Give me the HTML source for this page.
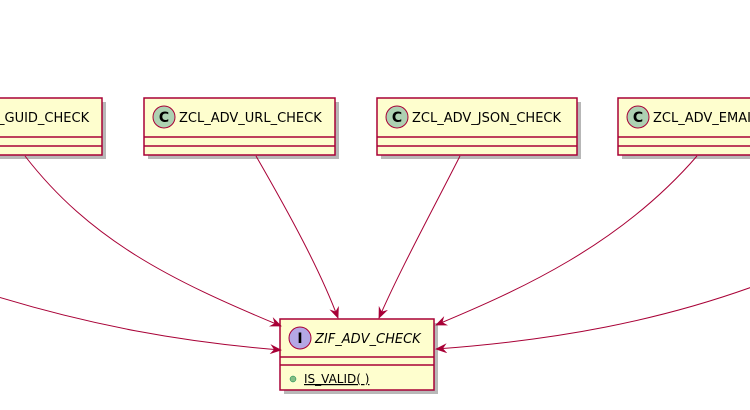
<!DOCTYPE html>
<html><head><meta charset="utf-8"><style>
html,body{margin:0;padding:0;background:#fff;width:750px;height:410px;overflow:hidden}
text{font-family:"DejaVu Sans","Liberation Sans",sans-serif}
</style></head><body>
<svg width="750" height="410" xmlns="http://www.w3.org/2000/svg">
<defs>
<marker id="a" viewBox="0 0 12 10" refX="11" refY="5" markerWidth="12" markerHeight="10" markerUnits="userSpaceOnUse" orient="auto">
<path d="M0,0 L12,5 L0,10 L4,5 Z" fill="#A80036"/></marker>
</defs>
<g fill="#888" opacity="0.6">
<rect x="-6" y="102" width="112" height="57"/>
<rect x="148" y="102" width="191" height="57"/>
<rect x="381" y="102" width="200" height="57"/>
<rect x="622" y="102" width="140" height="57"/>
<rect x="284" y="323" width="154" height="71"/>
</g>
<g fill="#FEFECE" stroke="#A80036" stroke-width="1.5">
<rect x="-10" y="98" width="112" height="57"/>
<line x1="-10" y1="137" x2="102" y2="137"/><line x1="-10" y1="146" x2="102" y2="146"/>
<rect x="144" y="98" width="191" height="57"/>
<line x1="144" y1="137" x2="335" y2="137"/><line x1="144" y1="146" x2="335" y2="146"/>
<rect x="377" y="98" width="200" height="57"/>
<line x1="377" y1="137" x2="577" y2="137"/><line x1="377" y1="146" x2="577" y2="146"/>
<rect x="618" y="98" width="140" height="57"/>
<line x1="618" y1="137" x2="758" y2="137"/><line x1="618" y1="146" x2="758" y2="146"/>
<rect x="280" y="319" width="154" height="71"/>
<line x1="280" y1="357" x2="434" y2="357"/><line x1="280" y1="365" x2="434" y2="365"/>
</g>
<g fill="#ADD1B2" stroke="#A80036" stroke-width="1">
<circle cx="164" cy="117" r="11"/><circle cx="397" cy="117" r="11"/><circle cx="638" cy="117" r="11"/>
</g>
<circle cx="300" cy="338" r="11" fill="#B4A7E5" stroke="#A80036"/>
<g font-weight="bold" font-size="14" text-anchor="middle" fill="#000">
<text x="164" y="122">C</text><text x="397" y="122">C</text><text x="638" y="122">C</text>
<text x="300" y="343" font-family="Liberation Mono,monospace">I</text>
</g>
<g font-size="13" fill="#000">
<text x="-2" y="122">_GUID_CHECK</text>
<text x="179" y="122">ZCL_ADV_URL_CHECK</text>
<text x="412" y="122">ZCL_ADV_JSON_CHECK</text>
<text x="653" y="122">ZCL_ADV_EMAIL_CHECK</text>
<text x="315" y="343" font-style="italic">ZIF_ADV_CHECK</text>
<text x="304" y="383" font-size="12" text-decoration="underline">IS_VALID( )</text>
</g>
<circle cx="293" cy="379" r="3" fill="#84BE84" stroke="#038048" stroke-width="0.5"/>
<g fill="none" stroke="#A80036" stroke-width="1">
<path d="M25,156 C90,240 170,280 281,326" marker-end="url(#a)"/>
<path d="M256,156 C290,215 320,270 338,318" marker-end="url(#a)"/>
<path d="M460,156 C430,215 400,270 379,318" marker-end="url(#a)"/>
<path d="M697,156 C620,245 520,290 436,325" marker-end="url(#a)"/>
<path d="M-5,296 C90,325 180,342 281,350" marker-end="url(#a)"/>
<path d="M752,287 C660,320 560,340 436,349" marker-end="url(#a)"/>
</g>
</svg>
</body></html>
